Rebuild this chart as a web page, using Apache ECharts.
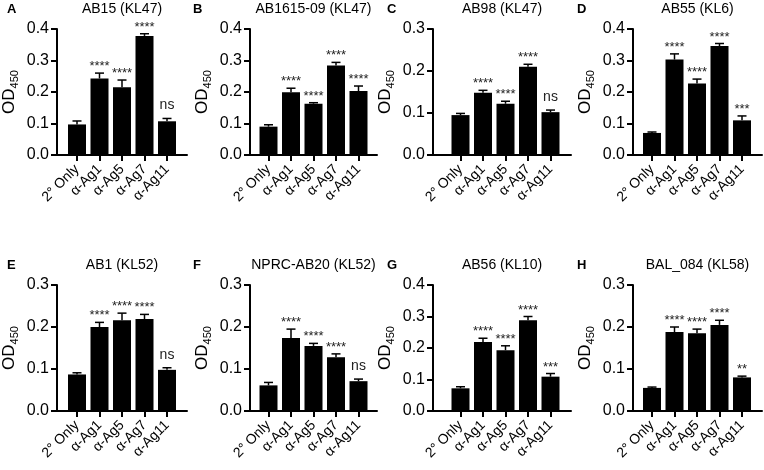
<!DOCTYPE html>
<html>
<head>
<meta charset="utf-8">
<script src="https://cdn.jsdelivr.net/npm/echarts@6/dist/echarts.min.js"></script>
<style>
  html, body { margin: 0; padding: 0; background: #fff; }
  #main { width: 764px; height: 470px; }
</style>
</head>
<body>
<div id="main"></div>
<script>
// categories / panels
var categories = ['2° Only', 'α-Ag1', 'α-Ag5', 'α-Ag7', 'α-Ag11'];
var panelLetters = ['A', 'B', 'C', 'D', 'E', 'F', 'G', 'H'];
var panelTitles = ['AB15 (KL47)', 'AB1615-09 (KL47)', 'AB98 (KL47)', 'AB55 (KL6)',
                   'AB1 (KL52)', 'NPRC-AB20 (KL52)', 'AB56 (KL10)', 'BAL_084 (KL58)'];
var yMaxValues = [0.4, 0.4, 0.3, 0.4, 0.3, 0.3, 0.4, 0.3];

// OD450 mean, SEM and significance per panel
var meanA = [0.097, 0.243, 0.215, 0.378, 0.107];
var semA  = [0.011, 0.017, 0.023, 0.007, 0.009];
var sigA  = ['', '****', '****', '****', 'ns'];

var meanB = [0.090, 0.199, 0.163, 0.284, 0.203];
var semB  = [0.006, 0.013, 0.003, 0.010, 0.016];
var sigB  = ['', '****', '****', '****', '****'];

var meanC = [0.095, 0.148, 0.122, 0.210, 0.102];
var semC  = [0.004, 0.006, 0.006, 0.006, 0.005];
var sigC  = ['', '****', '****', '****', 'ns'];

var meanD = [0.070, 0.303, 0.227, 0.346, 0.110];
var semD  = [0.003, 0.018, 0.014, 0.008, 0.014];
var sigD  = ['', '****', '****', '****', '***'];

var meanE = [0.087, 0.200, 0.216, 0.219, 0.098];
var semE  = [0.004, 0.011, 0.017, 0.011, 0.005];
var sigE  = ['', '****', '****', '****', 'ns'];

var meanF = [0.061, 0.174, 0.155, 0.128, 0.071];
var semF  = [0.007, 0.021, 0.006, 0.008, 0.005];
var sigF  = ['', '****', '****', '****', 'ns'];

var meanG = [0.072, 0.219, 0.193, 0.288, 0.109];
var semG  = [0.005, 0.012, 0.014, 0.012, 0.010];
var sigG  = ['', '****', '****', '****', '***'];

var meanH = [0.055, 0.188, 0.185, 0.205, 0.080];
var semH  = [0.002, 0.012, 0.010, 0.011, 0.003];
var sigH  = ['', '****', '****', '****', '**'];

var means = [meanA, meanB, meanC, meanD, meanE, meanF, meanG, meanH];
var sems  = [semA, semB, semC, semD, semE, semF, semG, semH];
var sigs  = [sigA, sigB, sigC, sigD, sigE, sigF, sigG, sigH];

// layout (pixels): y axis x, first tick x, end of x axis line
var colLayout = [
    { axis: 57,  first: 77,    end: 187 },
    { axis: 250, first: 268.5, end: 377 },
    { axis: 433, first: 460.5, end: 571 },
    { axis: 633, first: 652,   end: 762 }
];
var band = 22.5;
var rowTop = [29, 285];
var plotHeight = 126;
var letterX = [7, 193, 387, 577];
var FONT = 'Liberation Sans, Arial, sans-serif';

// error bar (upper SEM) + significance text
function errRender(sig) {
    return function (params, api) {
        var x = api.value(0), m = api.value(1), s = api.value(2);
        var base = api.coord([x, m]);
        var tip = api.coord([x, m + s]);
        var label = sig[params.dataIndex];
        var isNs = label === 'ns';
        return {
            type: 'group',
            children: [
                { type: 'line', shape: { x1: base[0], y1: base[1], x2: tip[0], y2: tip[1] },
                  style: { stroke: '#000', lineWidth: 1.5 } },
                { type: 'line', shape: { x1: tip[0] - 4.5, y1: tip[1], x2: tip[0] + 4.5, y2: tip[1] },
                  style: { stroke: '#000', lineWidth: 1.5 } },
                { type: 'text',
                  style: {
                      text: label,
                      x: tip[0],
                      y: tip[1] - (isNs ? 6 : 0),
                      align: 'center',
                      verticalAlign: 'bottom',
                      fontSize: isNs ? 14 : 13,
                      fontFamily: FONT,
                      fill: '#222'
                  } }
            ]
        };
    };
}

function buildOption() {
    var grids = [], xAxes = [], yAxes = [], series = [], titles = [];

    for (var p = 0; p < 8; p++) {
        var col = colLayout[p % 4];
        var rowY = rowTop[Math.floor(p / 4)];
        var bandLeft = col.first - band / 2;
        var g = grids.length;

        // grid holding the bars (category bands)
        grids.push({ left: bandLeft, top: rowY, width: band * categories.length, height: plotHeight });
        xAxes.push({
            gridIndex: g,
            type: 'category',
            data: categories,
            axisLine: { show: false },
            axisTick: { show: true, alignWithLabel: true, length: 6, lineStyle: { color: '#000', width: 2 } },
            axisLabel: {
                interval: 0,
                rotate: 45,
                margin: 12,
                fontSize: 14,
                fontFamily: FONT,
                color: '#000'
            }
        });
        yAxes.push({
            gridIndex: g,
            type: 'value',
            min: 0,
            max: yMaxValues[p],
            interval: 0.1,
            offset: bandLeft - col.axis,
            name: '{a|OD}{b|450}',
            nameLocation: 'middle',
            nameRotate: 90,
            nameGap: 37,
            nameTextStyle: {
                color: '#000',
                rich: {
                    a: { fontSize: 17, fontFamily: FONT, color: '#000' },
                    b: { fontSize: 11, fontFamily: FONT, color: '#000', padding: [10, 0, 0, 0] }
                }
            },
            splitLine: { show: false },
            axisLine: { show: true, lineStyle: { color: '#000', width: 2 } },
            axisTick: { show: true, length: 6, lineStyle: { color: '#000', width: 2 } },
            axisLabel: {
                fontSize: 16,
                fontFamily: FONT,
                color: '#000',
                margin: 8,
                formatter: function (v) { return v.toFixed(1); }
            }
        });

        var errData = [];
        for (var i = 0; i < categories.length; i++) {
            errData.push([i, means[p][i], sems[p][i]]);
        }

        series.push({
            type: 'bar',
            xAxisIndex: g,
            yAxisIndex: g,
            barWidth: 18,
            itemStyle: { color: '#000' },
            data: means[p],
            silent: true
        });
        series.push({
            type: 'custom',
            xAxisIndex: g,
            yAxisIndex: g,
            z: 5,
            silent: true,
            data: errData,
            renderItem: errRender(sigs[p])
        });

        // second grid only for the full-length x axis line
        grids.push({ left: col.axis, top: rowY, width: col.end - col.axis, height: plotHeight });
        xAxes.push({
            gridIndex: g + 1,
            type: 'value',
            min: 0,
            max: 1,
            splitLine: { show: false },
            axisTick: { show: false },
            axisLabel: { show: false },
            axisLine: { show: true, lineStyle: { color: '#000', width: 2 } }
        });
        yAxes.push({ gridIndex: g + 1, type: 'value', min: 0, max: 1, show: false });

        titles.push({
            text: panelTitles[p],
            left: (col.axis + col.end) / 2,
            top: rowY - 27,
            textAlign: 'center',
            padding: 0,
            textStyle: { fontSize: 14, fontWeight: 'normal', fontFamily: FONT, color: '#000' }
        });
        titles.push({
            text: panelLetters[p],
            left: letterX[p % 4],
            top: rowY - 26,
            padding: 0,
            textStyle: { fontSize: 13, fontWeight: 'bold', fontFamily: FONT, color: '#000' }
        });
    }

    return {
        backgroundColor: '#fff',
        animation: false,
        title: titles,
        grid: grids,
        xAxis: xAxes,
        yAxis: yAxes,
        series: series
    };
}

var myChart = echarts.init(document.getElementById('main'));
myChart.setOption(buildOption());
</script>
</body>
</html>
